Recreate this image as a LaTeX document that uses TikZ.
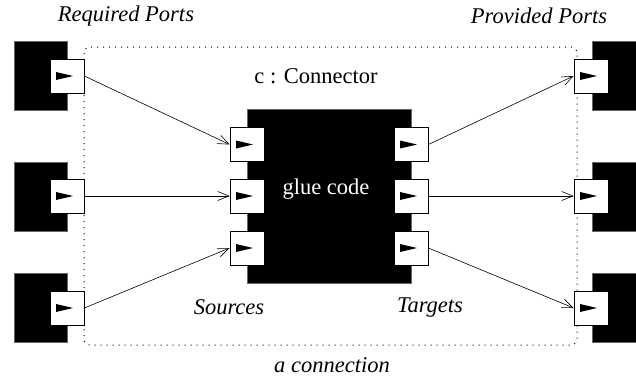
\documentclass[tikz,border=0pt]{standalone}
\usepackage{fontspec}
\setmainfont{Liberation Serif}
\usetikzlibrary{arrows.meta}
\newcommand{\bigfont}{\fontsize{22.5}{27}\selectfont}
\newcommand{\porttri}[1]{\fill ([shift={(-11pt,4pt)}]#1.center) -- ++(17pt,-4pt) -- ++(-17pt,-4pt) -- cycle;}
\tikzset{
	box/.style={fill=black, draw=black!60, inner sep=0pt},
	compbox/.style={box, minimum width=53pt, minimum height=69pt},
	port/.style={fill=white, draw=black, line width=.8pt, minimum size=34pt, inner sep=0pt},
	wire/.style={-{Straight Barb[length=11pt, width=9pt]}, line width=.6pt},
	lbl/.style={font=\bigfont\itshape},
	txt/.style={font=\bigfont}
}
\begin{document}
\begin{tikzpicture}[x=1pt, y=-1pt]
	\useasboundingbox (0, 0) rectangle (636, 378);

	% the connection
	\draw[line width=1pt, dash pattern=on 1pt off 5pt, rounded corners=6pt](84, 47) rectangle (577, 345);

		\node[compbox] (req1) at(40.5, 75.5){};
		\node[port] (lp1) at(67, 76){};
		\node[compbox] (req2) at(40.5, 196.5){};
		\node[port] (lp2) at(67, 196){};
		\node[compbox] (req3) at(40.5, 308){};
		\node[port] (lp3) at(67, 308){};

		\node[box, minimum width=44pt, minimum height=69pt] (prov1) at(614, 75.5){};
		\node[port] (rp1) at(591, 76){};
		\node[box, minimum width=44pt, minimum height=69pt] (prov2) at(614, 196.5){};
		\node[port] (rp2) at(591, 196){};
		\node[box, minimum width=44pt, minimum height=69pt] (prov3) at(614, 308){};
		\node[port] (rp3) at(591, 308){};

	% glue code
		\node[box, minimum width=164pt, minimum height=174pt] (glue) at(329, 196){};
		\node[port] (gl1) at(247, 144.5){};
		\node[port] (gl2) at(247, 196){};
		\node[port] (gl3) at(247, 248){};
		\node[port] (gr1) at(411, 144.5){};
		\node[port] (gr2) at(411, 196){};
		\node[port] (gr3) at(411, 248){};
		\node[txt, text=white] (gluetext) at(326, 189){glue code};

		\porttri{lp1} \porttri{lp2} \porttri{lp3}
		\porttri{rp1} \porttri{rp2} \porttri{rp3}
		\porttri{gl1} \porttri{gl2} \porttri{gl3}
		\porttri{gr1} \porttri{gr2} \porttri{gr3}

		\draw[wire](lp1.east) to (gl1.west);
		\draw[wire](lp2.east) to (gl2.west);
		\draw[wire](lp3.east) to (gl3.west);
		\draw[wire](gr1.east) to (rp1.west);
		\draw[wire](gr2.east) to (rp2.west);
		\draw[wire](gr3.east) to (rp3.west);

	\node[lbl] (required) at(126, 16){Required Ports};
	\node[lbl] (provided) at(539, 16){Provided Ports};
	\node[txt] (conn) at(316, 76){c : Connector};
	\node[lbl] (sources) at(229, 307){Sources};
	\node[lbl] (targets) at(430, 308){Targets};
	\node[lbl] (aconn) at(332, 365){a connection};
\end{tikzpicture}
\end{document}
